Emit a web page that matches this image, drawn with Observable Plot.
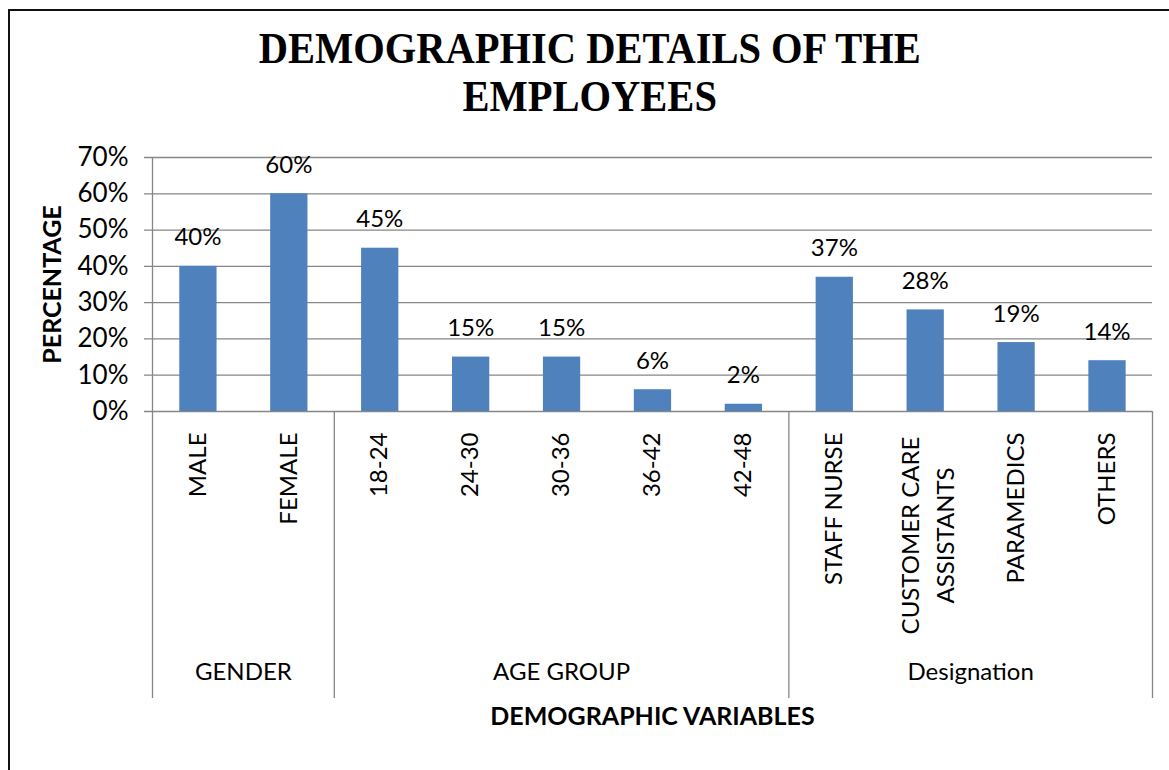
<!DOCTYPE html>
<html><head><meta charset="utf-8">
<script src="https://cdn.jsdelivr.net/npm/d3@7"></script>
<script src="https://cdn.jsdelivr.net/npm/@observablehq/plot@0.6"></script>
<style>
html,body{margin:0;padding:0;background:#fff;}
#wrap{position:relative;width:1169px;height:770px;overflow:hidden;background:#fff;}
#frame{position:absolute;left:8px;top:9px;width:1300px;height:900px;border:2px solid #111;box-sizing:border-box;pointer-events:none;}
#title{position:absolute;left:0;top:0;width:1180px;height:130px;text-align:center;font-family:"Liberation Serif","Times New Roman",serif;font-weight:bold;font-size:45px;line-height:48px;color:#000;}
#title div{display:inline-block;transform:scaleX(0.9);margin-top:24px;}
#chart{position:absolute;left:0;top:130px;}
</style>
</head><body>
<div id="wrap">
  <div id="title"><div>DEMOGRAPHIC DETAILS OF THE<br>EMPLOYEES</div></div>
  <div id="chart"></div>
  <div id="frame"></div>
</div>
<script>
const categories = ["MALE","FEMALE","18-24","24-30","30-36","36-42","42-48","STAFF NURSE","CUSTOMER CARE\nASSISTANTS","PARAMEDICS","OTHERS"];
const values = [0.40,0.60,0.45,0.15,0.15,0.06,0.02,0.37,0.28,0.19,0.14];
const groups = ["GENDER","AGE GROUP","Designation"];
const groupSizes = [2,5,4];
const yTicks = [0,0.1,0.2,0.3,0.4,0.5,0.6,0.7];
const yLabel = "PERCENTAGE";
const xLabel = "DEMOGRAPHIC VARIABLES";

const bars = categories.map((c,i)=>({c, v: values[i], i}));
let s = 0;
const groupData = groups.map((g,k)=>{const d = {g, start: s, end: s + groupSizes[k]}; s += groupSizes[k]; return d;});
const boundaries = groupData.map(d=>d.end);
const pct = d3.format(".0%");
const font = "Lato, 'Open Sans', sans-serif";
const grid = "#868686";

const plot = Plot.plot({
  width: 1169, height: 640,
  marginTop: 27, marginBottom: 359, marginLeft: 152, marginRight: 17,
  x: {domain: [0, categories.length], axis: null},
  y: {domain: [0, 0.7], ticks: yTicks, tickFormat: pct, tickSize: 0, tickPadding: 24, label: null},
  style: {fontFamily: font, fontSize: "26px", color: "#000", background: "#fff", overflow: "visible"},
  marks: [
    Plot.ruleY(yTicks, {stroke: grid, strokeWidth: 1.3, insetLeft: -8}),
    Plot.rect(bars, {x1: d => d.i + 0.3, x2: d => d.i + 0.71, y1: 0, y2: "v", fill: "#4F81BD"}),
    Plot.ruleX([0], {stroke: grid, strokeWidth: 1.3, insetBottom: -287}),
    Plot.ruleX(boundaries, {stroke: grid, strokeWidth: 1.3, insetTop: 254, insetBottom: -287}),
    Plot.text(bars, {x: d => d.i + 0.5, y: "v", text: d => pct(d.v), dy: -21, lineAnchor: "bottom", fontSize: 24, fill: "#000"}),
    Plot.text(bars.filter(d => !d.c.includes("\n")), {x: d => d.i + 0.5, frameAnchor: "bottom", text: "c", rotate: -90, textAnchor: "end", lineAnchor: "middle", dy: 21, fontSize: 24, fill: "#000"}),
    Plot.text(bars.filter(d => d.c.includes("\n")), {x: d => d.i + 0.5, frameAnchor: "bottom", text: "c", rotate: -90, textAnchor: "middle", lineAnchor: "middle", dy: 124, fontSize: 24, fill: "#000", lineHeight: 1.45}),
    Plot.text(groupData, {x: d => (d.start + d.end) / 2, frameAnchor: "bottom", text: "g", dy: 268, fontSize: 24, fill: "#000"}),
    Plot.text([xLabel], {frameAnchor: "bottom", text: d => d, dy: 313, fontSize: 25, fontWeight: "bold", fill: "#000"}),
    Plot.text([yLabel], {frameAnchor: "left", text: d => d, rotate: -90, textAnchor: "middle", dx: -100, fontSize: 25, fontWeight: "bold", fill: "#000"})
  ]
});
document.getElementById("chart").appendChild(plot);
</script>
</body></html>
